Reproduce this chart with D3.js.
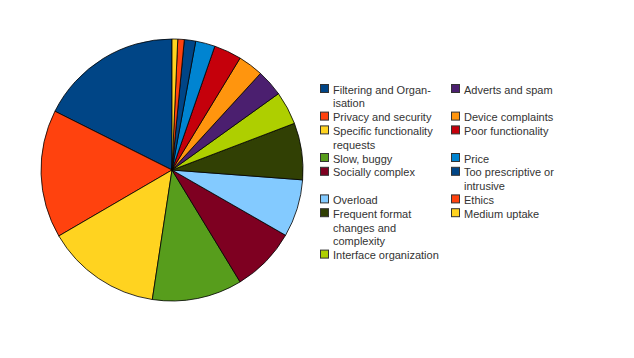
<!DOCTYPE html>
<html>
<head>
<meta charset="utf-8">
<script src="https://cdn.jsdelivr.net/npm/d3@7/dist/d3.min.js"></script>
<style>
	body { margin: 0; background: #fff; }
	svg { display: block; }
	.legend text { font-family: "Liberation Sans", Arial, sans-serif; font-size: 11px; fill: #333; }
</style>
</head>
<body>
<div id="chart"></div>
<script>
// categories, in pie order (counter-clockwise from 12 o'clock)
var categories = [
	"Filtering and Organ-\nisation",
	"Privacy and security",
	"Specific functionality\nrequests",
	"Slow, buggy",
	"Socially complex",
	"Overload",
	"Frequent format\nchanges and\ncomplexity",
	"Interface organization",
	"Adverts and spam",
	"Device complaints",
	"Poor functionality",
	"Price",
	"Too prescriptive or\nintrusive",
	"Ethics",
	"Medium uptake"
];

// share of responses (%)
var values = [17.6, 15.8, 14.2, 11.1, 8.0, 7.1, 7.0, 4.1, 3.3, 3.1, 3.4, 2.4, 1.4, 0.8, 0.7];

var colors = [
	"#004586", "#ff420e", "#ffd320", "#579d1c", "#7e0021",
	"#83caff", "#314004", "#aecf00", "#4b1f6f", "#ff950e",
	"#c5000b", "#0084d1", "#004586", "#ff420e", "#ffd320"
];

(function() {
	var width = 634, height = 358,
		cx = 172, cy = 170, radius = 131;

	var svg = d3.select("#chart").append("svg")
		.attr("width", width)
		.attr("height", height);

	var pie = d3.pie()
		.sort(null)
		.startAngle(0)
		.endAngle(-2 * Math.PI)
		.value(function(d) { return d; });

	var arc = d3.arc().innerRadius(0).outerRadius(radius);

	var color = d3.scaleOrdinal().domain(d3.range(values.length)).range(colors);

	svg.append("g")
		.attr("transform", "translate(" + cx + "," + cy + ")")
	  .selectAll("path")
		.data(pie(values))
	  .enter().append("path")
		.attr("d", arc)
		.attr("fill", function(d, i) { return color(i); })
		.attr("stroke", "#000")
		.attr("stroke-width", 0.8)
		.attr("stroke-linejoin", "round");

	// legend: two columns filled top to bottom, rows share height
	var lineH = 13.8,
		colX = [320, 451],
		legendTop = 84;

	var legend = svg.append("g").attr("class", "legend");

	var rows = Math.ceil(categories.length / 2),
		y = legendTop;
	for (var r = 0; r < rows; r++) {
		var maxLines = 1;
		for (var c = 0; c < 2; c++) {
			var i = r + c * rows;
			if (i >= categories.length) continue;
			var lines = categories[i].split("\n");
			maxLines = Math.max(maxLines, lines.length);
			legend.append("rect")
				.attr("x", colX[c] + 0.5)
				.attr("y", y + 0.5)
				.attr("width", 8)
				.attr("height", 8)
				.attr("fill", color(i))
				.attr("stroke", "#333")
				.attr("stroke-width", 1);
			var t = legend.append("text")
				.attr("x", colX[c] + 13)
				.attr("y", y + 9.5);
			lines.forEach(function(l, k) {
				t.append("tspan")
					.attr("x", colX[c] + 13)
					.attr("dy", k == 0 ? 0 : lineH)
					.text(l);
			});
		}
		y += maxLines * lineH;
	}
})();
</script>
</body>
</html>
